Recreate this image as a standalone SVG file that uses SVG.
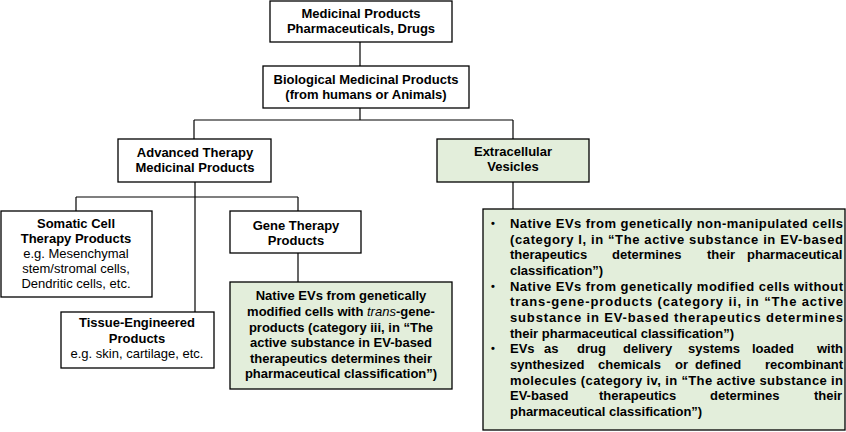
<svg xmlns="http://www.w3.org/2000/svg" width="846" height="432" viewBox="0 0 846 432">
<style>
.box{fill:#ffffff;stroke:#000;stroke-width:1.3}
.g{fill:#e3eedb;stroke:#000;stroke-width:1.3}
.c{stroke:#000;stroke-width:1.2;fill:none}
text{font-family:"Liberation Sans",Arial,sans-serif;font-size:13px;fill:#000}
.b{font-weight:bold}
.m{text-anchor:middle}
.bul{font-size:11px}
</style>
<rect width="846" height="432" fill="#fff"/>
<g id="connectors">
<line class="c" x1="360" y1="42" x2="360" y2="66"/>
<line class="c" x1="360" y1="108" x2="360" y2="120"/>
<line class="c" x1="194" y1="120" x2="513" y2="120"/>
<line class="c" x1="194" y1="120" x2="194" y2="139"/>
<line class="c" x1="513" y1="120" x2="513" y2="139"/>
<line class="c" x1="195" y1="182" x2="195" y2="312"/>
<line class="c" x1="76" y1="197" x2="298" y2="197"/>
<line class="c" x1="76" y1="197" x2="76" y2="211"/>
<line class="c" x1="298" y1="197" x2="298" y2="211"/>
<line class="c" x1="298" y1="253" x2="298" y2="282"/>
<line class="c" x1="513" y1="182" x2="513" y2="209"/>
</g>
<g id="medicinal">
<rect class="box" x="270" y="1" width="182" height="41"/>
<text class="b m" x="361" y="18">Medicinal Products</text>
<text class="b m" x="361" y="33">Pharmaceuticals,  Drugs</text>
</g>
<g id="biological">
<rect class="box" x="263" y="66" width="206" height="42"/>
<text class="b m" x="366" y="84">Biological Medicinal Products</text>
<text class="b m" x="366" y="99">(from humans or Animals)</text>
</g>
<g id="atmp">
<rect class="box" x="118" y="139" width="153" height="43"/>
<text class="b m" x="195" y="157">Advanced Therapy</text>
<text class="b m" x="195" y="172">Medicinal Products</text>
</g>
<g id="ev">
<rect class="g" x="437" y="139" width="152" height="43"/>
<text class="b m" x="513" y="156">Extracellular</text>
<text class="b m" x="513" y="171">Vesicles</text>
</g>
<g id="somatic">
<rect class="box" x="1" y="211" width="151" height="86"/>
<text class="b m" x="76" y="228">Somatic Cell</text>
<text class="b m" x="76" y="243">Therapy Products</text>
<text class="m" x="76" y="258">e.g. Mesenchymal</text>
<text class="m" x="76" y="273">stem/stromal cells,</text>
<text class="m" x="76" y="288">Dendritic cells, etc.</text>
</g>
<g id="gene">
<rect class="box" x="230" y="211" width="131" height="42"/>
<text class="b m" x="296" y="230">Gene Therapy</text>
<text class="b m" x="296" y="245">Products</text>
</g>
<g id="tissue">
<rect class="box" x="61" y="312" width="153" height="56"/>
<text class="b m" x="137" y="327">Tissue-Engineered</text>
<text class="b m" x="137" y="343">Products</text>
<text class="m" x="137" y="358">e.g. skin, cartilage, etc.</text>
</g>
<g id="gene-evs">
<rect class="g" x="230" y="282" width="222" height="107"/>
<text class="b m" x="341" y="300">Native EVs from genetically</text>
<text class="b m" x="341" y="316">modified cells with <tspan font-style="italic" font-weight="normal">trans</tspan>-gene-</text>
<text class="b m" x="341" y="331.5">products (category iii, in “The</text>
<text class="b m" x="341" y="347">active substance in EV-based</text>
<text class="b m" x="341" y="362.5">therapeutics determines their</text>
<text class="b m" x="341" y="378">pharmaceutical classification”)</text>
</g>
<g id="ev-list">
<rect class="g" x="483" y="209" width="362" height="221"/>
<g class="b">
<text class="bul" x="491" y="227">•</text>
<text class="bul" x="491" y="289.7">•</text>
<text class="bul" x="491" y="352.3">•</text>
<text x="510" y="228" textLength="333" lengthAdjust="spacing">Native EVs from genetically non-manipulated cells</text>
<text x="510" y="243.7" textLength="333" lengthAdjust="spacing">(category I, in “The active substance in EV-based</text>
<text y="259.3"><tspan x="510">therapeutics</tspan><tspan x="612">determines</tspan><tspan x="707">their</tspan><tspan x="747">pharmaceutical</tspan></text>
<text x="510" y="275">classification”)</text>
<text x="510" y="290.7" textLength="333" lengthAdjust="spacing">Native EVs from genetically modified cells without</text>
<text x="510" y="306.3" textLength="333" lengthAdjust="spacing">trans-gene-products (category ii, in “The active</text>
<text x="510" y="322" textLength="333" lengthAdjust="spacing">substance in EV-based therapeutics determines</text>
<text x="510" y="337.7">their pharmaceutical classification”)</text>
<text y="353.3"><tspan x="510">EVs</tspan><tspan x="544">as</tspan><tspan x="577">drug</tspan><tspan x="623">delivery</tspan><tspan x="688">systems</tspan><tspan x="752">loaded</tspan><tspan x="817">with</tspan></text>
<text y="369"><tspan x="510">synthesized</tspan><tspan x="598">chemicals</tspan><tspan x="675">or</tspan><tspan x="695">defined</tspan><tspan x="765">recombinant</tspan></text>
<text x="510" y="384.7" textLength="333" lengthAdjust="spacing">molecules (category iv, in “The active substance in</text>
<text y="400.3"><tspan x="510">EV-based</tspan><tspan x="599">therapeutics</tspan><tspan x="710">determines</tspan><tspan x="814">their</tspan></text>
<text x="510" y="416">pharmaceutical classification”)</text>
</g>
</g>
</svg>
